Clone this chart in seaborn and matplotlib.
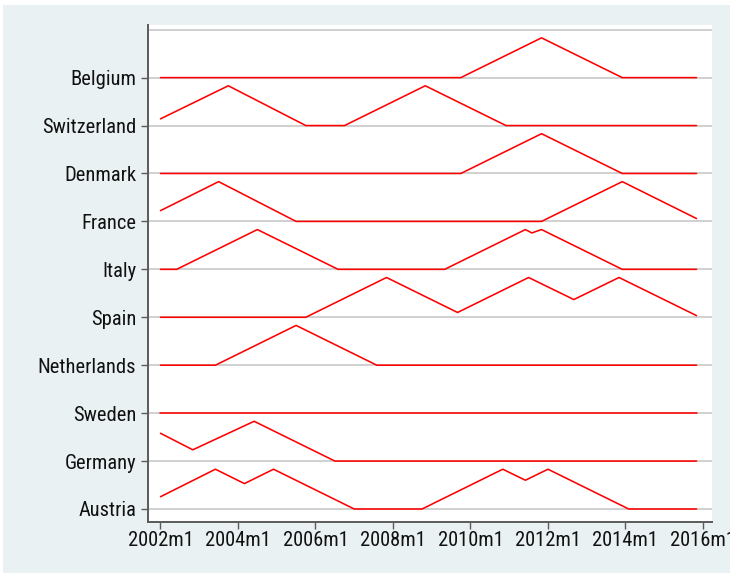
import numpy as np
import pandas as pd
import seaborn as sns
import matplotlib
matplotlib.use("Agg")
import matplotlib.pyplot as plt
from matplotlib import font_manager
from matplotlib.patches import Rectangle

# Countries from bottom row to top row
countries = ["Austria", "Germany", "Sweden", "Netherlands", "Spain",
             "Italy", "France", "Denmark", "Switzerland", "Belgium"]

# Turning points of each country's indicator (monthly dates, Stata %tm style)
belgium_dates = ["2002m1", "2009m10", "2011m11", "2013m12", "2015m11"]
belgium_vals = [0, 0, 0.83, 0, 0]

switzerland_dates = ["2002m1", "2003m10", "2005m10", "2006m10", "2008m11", "2010m12", "2015m11"]
switzerland_vals = [0.14, 0.83, 0, 0, 0.83, 0, 0]

denmark_dates = ["2002m1", "2009m10", "2011m11", "2013m12", "2015m11"]
denmark_vals = [0, 0, 0.83, 0, 0]

france_dates = ["2002m1", "2003m7", "2005m7", "2011m11", "2013m12", "2015m11"]
france_vals = [0.225, 0.83, 0, 0, 0.83, 0.06]

italy_dates = ["2002m1", "2002m6", "2004m7", "2006m8", "2009m5", "2011m6", "2011m8",
               "2011m11", "2013m12", "2015m11"]
italy_vals = [0, 0, 0.83, 0, 0, 0.83, 0.76, 0.83, 0, 0]

spain_dates = ["2002m1", "2005m10", "2007m11", "2009m9", "2011m7", "2012m9", "2013m11", "2015m11"]
spain_vals = [0, 0, 0.83, 0.10, 0.83, 0.37, 0.83, 0.035]

netherlands_dates = ["2002m1", "2003m6", "2005m7", "2007m8", "2015m11"]
netherlands_vals = [0, 0, 0.83, 0, 0]

sweden_dates = ["2002m1", "2015m11"]
sweden_vals = [0, 0]

germany_dates = ["2002m1", "2002m11", "2004m6", "2006m7", "2015m11"]
germany_vals = [0.58, 0.235, 0.83, 0, 0]

austria_dates = ["2002m1", "2003m6", "2004m3", "2004m12", "2007m1", "2008m10", "2010m11",
                 "2011m6", "2012m1", "2014m2", "2015m11"]
austria_vals = [0.256, 0.83, 0.53, 0.83, 0, 0, 0.83, 0.6, 0.83, 0, 0]

tick_labels = ["2002m1", "2004m1", "2006m1", "2008m1", "2010m1", "2012m1", "2014m1", "2016m1"]

series = {
    "Austria": (austria_dates, austria_vals),
    "Germany": (germany_dates, germany_vals),
    "Sweden": (sweden_dates, sweden_vals),
    "Netherlands": (netherlands_dates, netherlands_vals),
    "Spain": (spain_dates, spain_vals),
    "Italy": (italy_dates, italy_vals),
    "France": (france_dates, france_vals),
    "Denmark": (denmark_dates, denmark_vals),
    "Switzerland": (switzerland_dates, switzerland_vals),
    "Belgium": (belgium_dates, belgium_vals),
}


def tm(s):
    """Months elapsed since 2002m1 for a 'YYYYmM' string."""
    y, m = s.split("m")
    return (int(y) - 2002) * 12 + int(m) - 1


rows = []
for pos, name in enumerate(countries, start=1):
    dates, vals = series[name]
    for d, v in zip(dates, vals):
        rows.append({"country": name, "t": tm(d), "y": pos + v})
df = pd.DataFrame(rows)

sns.set_theme(style="white")

# Prefer a narrow sans face for the labels when one is available
fonts = font_manager.fontManager.ttflist
names = {f.name for f in fonts}
condensed = {f.name for f in fonts if str(f.stretch) in ("condensed", "semi-condensed", "extra-condensed")}
label_font = dict(family=["Liberation Sans", "DejaVu Sans"], size=13.5, stretch="normal")
for cand in ("Liberation Sans Narrow", "Roboto Condensed", "Open Sans Condensed",
             "Noto Sans Condensed", "DejaVu Sans Condensed"):
    if cand in names:
        label_font = dict(family=[cand, "DejaVu Sans"], size=14.8, stretch="normal")
        break
else:
    for cand in ("Roboto", "Noto Sans", "Open Sans", "DejaVu Sans"):
        if cand in condensed:
            label_font = dict(family=[cand, "DejaVu Sans"], size=14.8, stretch="condensed")
            break
plt.rcParams["font.family"] = label_font["family"]
plt.rcParams["font.stretch"] = label_font["stretch"]
fsize = label_font["size"]

bg = "#EAF1F3"
fig = plt.figure(figsize=(7.30, 5.73), dpi=100, facecolor="white")
fig.add_artist(Rectangle((3 / 730, 0), 1, 1 - 5 / 573, transform=fig.transFigure,
                         facecolor=bg, edgecolor="none", zorder=-10))
ax = fig.add_axes([148 / 730, (573 - 521.7) / 573, (711.7 - 148) / 730, (521.7 - 25) / 573])
ax.set_facecolor("white")

for g in range(1, 12):
    ax.axhline(g, color="#C8C8C8", lw=1.2, zorder=1)

sns.lineplot(data=df, x="t", y="y", units="country", estimator=None, sort=False,
             color="#FF0000", lw=1.15, ax=ax, zorder=3)

ax.set_xlim(-3.87, 170.7)
ax.set_ylim(0.735, 11.098)
ax.set_xticks([tm(s) for s in tick_labels])
ax.set_xticklabels(tick_labels)
ax.set_yticks(range(1, len(countries) + 1))
ax.set_yticklabels(countries)
ax.set_xlabel("")
ax.set_ylabel("")

for side in ("top", "right"):
    ax.spines[side].set_visible(False)
for side in ("left", "bottom"):
    ax.spines[side].set_color("#5A5A5A")
    ax.spines[side].set_linewidth(1.4)
ax.tick_params(axis="both", which="major", length=5, width=1, color="#5A5A5A",
               labelsize=fsize, labelcolor="#111111")
ax.tick_params(axis="y", pad=3.5, left=True)
ax.tick_params(axis="x", pad=1.5, bottom=True)
ax.grid(False)

fig.savefig("out.png", dpi=100, facecolor=fig.get_facecolor())
